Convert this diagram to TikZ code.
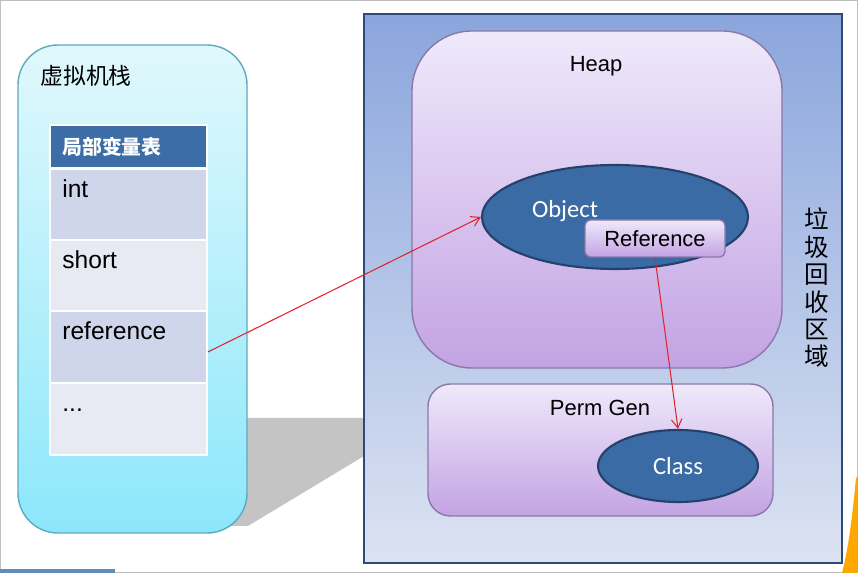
\documentclass[tikz,border=0pt]{standalone}
\usepackage{fontspec}
\setmainfont{Liberation Sans}
\newfontfamily\cjk{Noto Sans CJK SC}
\newfontfamily\calib{Carlito}
\usepackage{xcolor}
\usetikzlibrary{arrows.meta,positioning,fit,shapes.geometric}

\definecolor{stackedge}{HTML}{5EA9BE}
\definecolor{stacktop}{HTML}{E0F8FC}
\definecolor{stackbot}{HTML}{8CE7FB}
\definecolor{hdrblue}{HTML}{3C6DA7}
\definecolor{rowdark}{HTML}{CFD5EA}
\definecolor{rowlight}{HTML}{E8EAF3}
\definecolor{gcedge}{HTML}{2E4A7A}
\definecolor{gctop}{HTML}{8BA6DD}
\definecolor{gcmid}{HTML}{BACDEE}
\definecolor{gcbot}{HTML}{DCE3F2}
\definecolor{lilacedge}{HTML}{8A78A8}
\definecolor{lilactop}{HTML}{EFE9FB}
\definecolor{lilacbot}{HTML}{C3A3E3}
\definecolor{objblue}{HTML}{3A6BA5}
\definecolor{objedge}{HTML}{24416B}
\definecolor{refred}{HTML}{E0242C}

\tikzset{
  area/.style={inner sep=0pt, line width=0.8pt},
  cell/.style={area, draw=white, line width=1pt},
  lbl/.style={inner sep=0pt},
  blob/.style={ellipse, fill=objblue, draw=objedge, line width=1.2pt, inner sep=0pt},
  lilac/.style={area, draw=lilacedge, top color=lilactop, bottom color=lilacbot},
  ptr/.style={->, draw=refred, line width=0.6pt},
}

\begin{document}
\begin{tikzpicture}[x=0.02cm, y=-0.02cm, font=\fontsize{12.5}{14}\selectfont, >={Straight Barb[length=5pt,width=6pt]}]
\useasboundingbox (0,0) rectangle (858,573);
% frame of the slide
\draw[black!25, line width=0.8pt] (0.5,0.5) rectangle (857.5,572.5);
\fill[hdrblue!80] (0,569) rectangle (115,573);
\fill[orange!70!yellow] (856,478) .. controls (852,520) and (848,550) .. (842,573) -- (858,573) -- (858,476) -- cycle;

% shadow between the two parts
\fill[black!23] (230,418) -- (364,418) -- (364,456) -- (248,526) -- (230,526) -- cycle;

% virtual machine stack
\node[area, fit={(18,45) (247,533)}, rounded corners=0.8cm, draw=stackedge,
  top color=stacktop, bottom color=stackbot] (stack) {};
\node[lbl, anchor=west, font=\cjk\fontsize{13}{15}\selectfont] (stacktitle) at (40,76) {虚拟机栈};
\node[cell, fit={(50,125) (207,168)}, fill=hdrblue] (hdr) {};
\node[lbl, anchor=west, text=white, font=\cjk\bfseries\fontsize{11.3}{13}\selectfont] (hdrtxt) at (62,147) {局部变量表};
\foreach \name/\txt/\y/\col in {int/int/169/rowdark, short/short/240/rowlight, ref/reference/311/rowdark, dots/.{}.{}./383/rowlight}
{
  \node[cell, fit={(50,\y) (207,\y+72)}, fill=\col] (row-\name) {};
  \node[lbl, anchor=base west, font=\fontsize{14}{16}\selectfont] (txt-\name) at (62,\y+29) {\txt};
}

% garbage collected area
\node[area, fit={(364,14) (842,563)}, draw=gcedge, line width=1.5pt,
  top color=gctop, middle color=gcmid, bottom color=gcbot] (gc) {};
\node[align=center, font=\cjk\fontsize{14}{15.6}\selectfont] (gctxt) at (817,288) {垃\\圾\\回\\收\\区\\域};

% heap
\node[lilac, fit={(412,31) (782,368)}, rounded corners=1.2cm] (heap) {};
\node (heaptxt) at (596,66) {Heap};
\node[blob, minimum width=266*0.02cm, minimum height=104*0.02cm] (obj) at (615,217) {};
\node[text=white, font=\calib\fontsize{14}{16}\selectfont] (objtxt) at (565,211) {Object};
\node[lilac, fit={(585,220) (725,257)}, rounded corners=3pt] (refbox) {};
\node (reftxt) at (655,239) {Reference};

% permanent generation
\node[lilac, fit={(428,384) (773,516)}, rounded corners=0.45cm] (perm) {};
\node (permtxt) at (600,408) {Perm Gen};
\node[blob, minimum width=160*0.02cm, minimum height=72*0.02cm] (cls) at (678,466) {};
\node[text=white, font=\calib\fontsize{14}{16}\selectfont] (clstxt) at (678,466) {Class};

% references
\draw[ptr] ([yshift=-0.1cm]row-ref.east) -- (obj.west);
\draw[ptr] (refbox.south) -- (cls.north);
\end{tikzpicture}
\end{document}
